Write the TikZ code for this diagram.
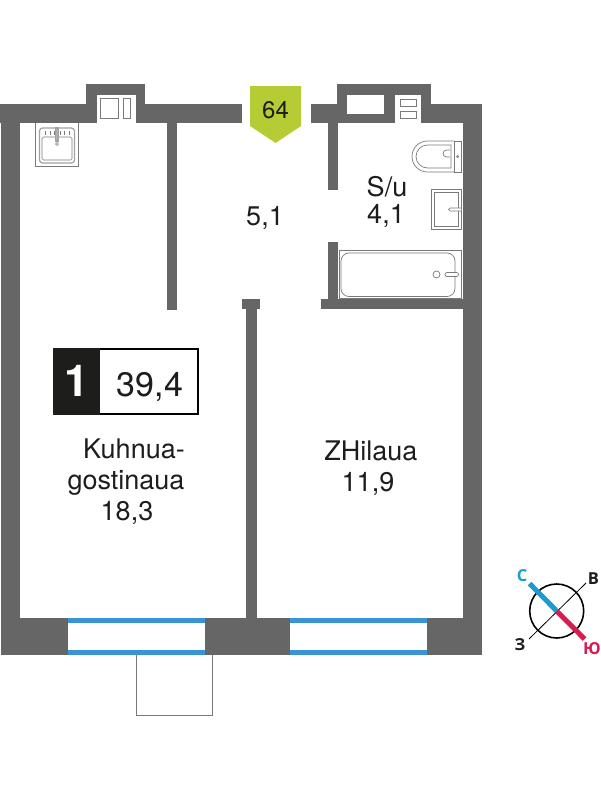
\documentclass[tikz,border=0pt]{standalone}
\usepackage{fontspec}
\setmainfont{TeX Gyre Heros}
\newfontfamily\compassfont{Open Sans}
\definecolor{wallc}{HTML}{666666}
\definecolor{flagc}{HTML}{B5CC35}
\definecolor{winc}{HTML}{3A94D4}
\definecolor{txtc}{HTML}{1D1D1B}
\definecolor{fixc}{HTML}{7A7A7A}
\definecolor{northc}{HTML}{1B9BD1}
\definecolor{southc}{HTML}{D81B50}
\tikzset{
  wall/.style={fill=wallc,draw=none},
  fixture/.style={draw=fixc,line width=0.7pt,fill=white},
  fixthick/.style={draw=fixc!70,line width=1.2pt,fill=white},
  label/.style={anchor=base,text=txtc,inner sep=0pt,font=\fontsize{27}{27}\selectfont},
  compasslabel/.style={anchor=center,inner sep=0pt,font=\compassfont\fontsize{16.5}{16.5}\selectfont\bfseries}
}
\begin{document}
\begin{tikzpicture}[x=1pt,y=-1pt]
\useasboundingbox (0,0) rectangle (600,800);
% outer walls
\fill[wall] (0,104) rectangle (242,123);
\fill[wall] (310.5,104) rectangle (482,123);
\fill[wall] (1,104) rectangle (20,640);
\fill[wall] (463,104) rectangle (482,640);
\fill[wall] (86,84) rectangle (145,123);
\fill[wall] (337,84) rectangle (431,123);
% niches
\fill[white] (96.5,94.5) rectangle (135.5,123);
\draw[fixture] (100.5,98.5) rectangle (118.5,118.5);
\draw[fixture] (123,98.5) rectangle (130.5,118.5);
\fill[white] (347,94.5) rectangle (384,113.5);
\fill[white] (395,94.5) rectangle (421,123);
\draw[fixture] (400,99.5) rectangle (416,106.5);
\draw[fixture] (400,111.5) rectangle (416,118.5);
% partitions
\fill[wall] (167,123) rectangle (177,310);
\fill[wall] (327.5,123) rectangle (337.5,190);
\fill[wall] (327.5,242) rectangle (337.5,300);
\fill[wall] (321,299) rectangle (463,309);
\fill[wall] (241.5,299) rectangle (260,309);
\fill[wall] (246,309) rectangle (257,620);
% bottom wall
\fill[wall] (1,618) rectangle (68,655);
\fill[wall] (205,618) rectangle (290,655);
\fill[wall] (427,618) rectangle (482,655);
\fill[winc] (68,618) rectangle (205,623);
\fill[winc] (68,650) rectangle (205,655);
\fill[winc] (290,618) rectangle (427,623);
\fill[winc] (290,650) rectangle (427,655);
% balcony
\draw[draw=fixc,line width=0.8pt] (136,655) -- (136,715.5) -- (212.5,715.5) -- (212.5,655);
% kitchen sink
\draw[draw=fixc,line width=0.7pt] (35.5,123) -- (35.5,166.5) -- (78.5,166.5) -- (78.5,123);
\draw[fixthick,rounded corners=3pt] (39.5,128) rectangle (74.5,163);
\draw[fixture,rounded corners=1.5pt] (42,137) rectangle (72,160);
\foreach \tx in {45,50,54,60,64,69}{\draw[fixc,line width=0.7pt] (\tx,130.5) -- (\tx,134.5);}
\draw[fixthick,fill=fixc!60] (55.5,128) rectangle (58.5,141);
\draw[fixture] (57,144) circle (1.5);
% toilet
\draw[fixture] (454,141) -- (427.5,141) arc[start angle=270,end angle=90,radius=15.5] -- (454,172);
\draw[fixture] (454,141) rectangle (461,172);
\draw[fixture] (451,145) -- (427.5,145) arc[start angle=270,end angle=90,radius=11.5] -- (451,168) -- cycle;
\draw[fixture] (450,150) -- (446.5,150) arc[start angle=270,end angle=90,radius=3.5] -- (450,157);
\draw[fixture] (457.5,156.5) circle (1);
% bathroom sink
\draw[fixture] (431,189) rectangle (461,229);
\draw[fixture] (434,192) rectangle (458,226);
\draw[fixture] (461,208) -- (450,208) arc[start angle=270,end angle=90,radius=1.5] -- (461,211);
% bath
\draw[fixture] (339,250.5) rectangle (461,298);
\draw[fixture,rounded corners=8pt] (341,253) rectangle (455,296.5);
\draw[fixture] (436.5,274.5) circle (3.5);
\draw[fixture,rounded corners=2pt] (445,272.5) rectangle (458.5,276.5);
% flag
\fill[flagc] (250,86) -- (301,86) -- (301,126) -- (275.5,143) -- (250,126) -- cycle;
\node[label,font=\fontsize{24}{24}\selectfont] (flagnum) at (275.5,118.7) {64};
% badge
\draw[draw=black,line width=2pt,fill=white] (53.5,348.5) rectangle (198,413.5);
\fill[txtc] (52.7,347.5) rectangle (100,414.5);
\node[label,text=white,font=\fontsize{44}{44}\selectfont\bfseries] (rooms) at (76.5,396.5) {1};
\node[label,font=\fontsize{34}{34}\selectfont] (total) at (150,396) {39,4};
% room labels
\node[label] (hall) at (265,225) {5,1};
\node[label] (bathname) at (387,196) {S/u};
\node[label] (batharea) at (386,223) {4,1};
\node[label] (kitname1) at (134,458) {Kuhnua-};
\node[label] (kitname2) at (126,489) {gostinaua};
\node[label] (kitarea) at (127,520) {18,3};
\node[label] (bedname) at (371,460) {ZHilaua};
\node[label] (bedarea) at (368,491) {11,9};
% compass
\draw[black,line width=1.6pt] (556.7,611) circle (27);
\draw[black,line width=0.8pt] (529,639) -- (586,583);
\draw[northc,line width=5pt] (529.5,583.5) -- (556.7,611);
\draw[southc,line width=5pt] (556.7,611) -- (584.5,639);
\node[compasslabel,text=northc] (north) at (522,576) {С};
\node[compasslabel,text=txtc] (east) at (593.3,579) {В};
\node[compasslabel,text=txtc] (west) at (520,645) {З};
\node[compasslabel,text=southc] (south) at (592,649) {Ю};
\end{tikzpicture}
\end{document}
